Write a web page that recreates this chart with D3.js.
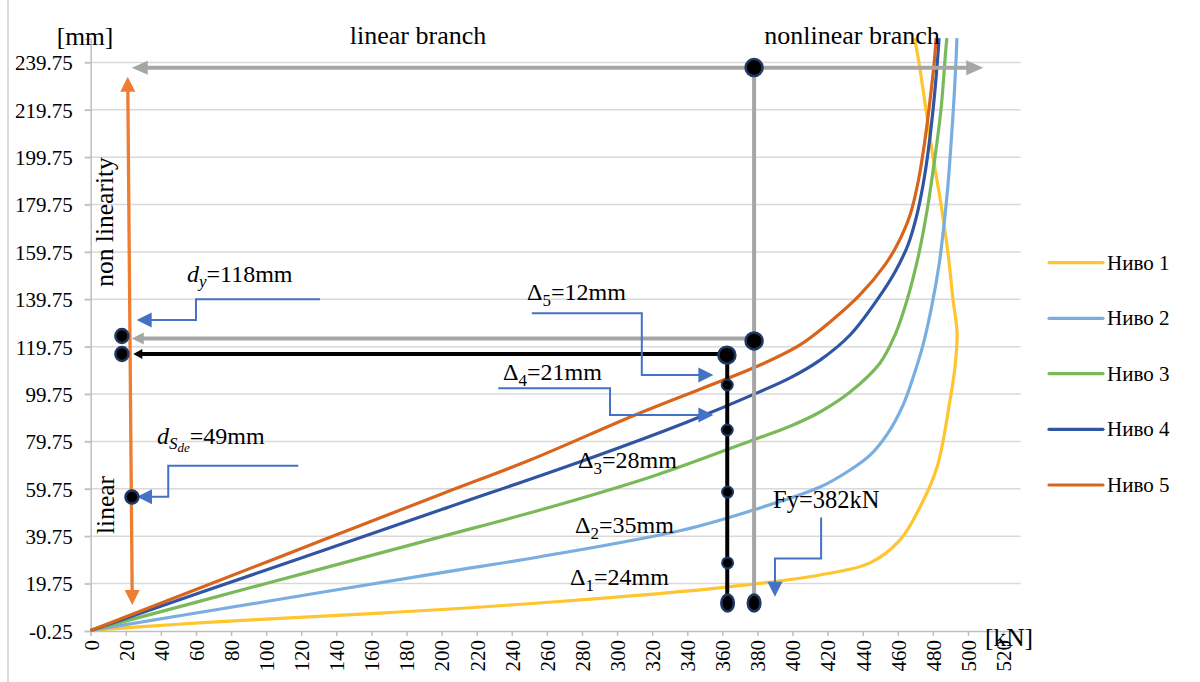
<!DOCTYPE html>
<html><head><meta charset="utf-8">
<script src="https://cdn.jsdelivr.net/npm/d3@7"></script>
<style>body{margin:0;background:#fff}svg{display:block}text{font-family:"Liberation Serif","Times New Roman",serif;fill:#000}</style>
</head><body><svg id="c" width="1200" height="682"></svg>
<script>
const seriesNames = ["Ниво 1","Ниво 2","Ниво 3","Ниво 4","Ниво 5"];
const seriesColors = ["#ffc52e","#7aaee0","#79b95a","#2f55a3","#d9651c"];
// force [kN] and displacement [mm]
const nivo1F = [0, 50, 100, 165, 265, 362.6, 415.7, 444.2, 461.3, 472.7, 482.4, 489.8, 492.6, 493.8, 491.5, 488.6, 484.7, 480.1, 476.1, 472.1, 469.6];
const nivo1D = [0, 2.6, 4.8, 7.3, 12.1, 18.3, 23.4, 28.5, 38.2, 52.1, 69.0, 97.3, 111.2, 125.5, 139.5, 159.3, 179.6, 199.8, 219.7, 239.5, 250];
const nivo2F = [0, 100, 200, 256.1, 337.6, 377.5, 415.7, 432.8, 444.2, 454.4, 463.0, 469.2, 474.4, 479.5, 483.5, 486.3, 488.6, 490.3, 492.0, 493.2, 493.7];
const nivo2D = [0, 12.2, 24.4, 31.1, 42.4, 50.8, 60.5, 67.7, 74.0, 83.3, 95.1, 107.8, 120.5, 137.4, 154.2, 171.1, 188.0, 204.9, 223.9, 240.8, 250];
const nivo3F = [0, 100, 200, 256.1, 320, 377.5, 398.6, 415.7, 432.8, 449.9, 458.4, 465.3, 472.1, 477.2, 481.2, 484.6, 487.5, 488.0];
const nivo3D = [0, 19.8, 39.6, 50.8, 65, 80.4, 86.2, 92.2, 100.6, 112.9, 124.7, 139.5, 159.3, 179.6, 199.8, 219.7, 246.3, 250];
const nivo4F = [0, 100, 200, 284.6, 340, 381.5, 398.6, 415.7, 432.8, 448.2, 458.4, 465.8, 470.9, 474.4, 476.9, 480.1, 483.2, 483.5];
const nivo4D = [0, 25.5, 51, 72.7, 88, 100.8, 106.6, 114.1, 124.7, 139.5, 151.3, 162.7, 175.4, 188.0, 199.8, 219.7, 246.3, 250];
const nivo5F = [0, 100, 200, 250.4, 313, 381.5, 404.3, 421.4, 438.4, 452.7, 459.6, 467.0, 471.8, 475.5, 478.4, 480.9, 481.8];
const nivo5D = [0, 28.8, 57.6, 71.9, 91.8, 112.0, 120.5, 130.2, 141.6, 154.3, 162.7, 175.4, 190.1, 207.0, 223.9, 240.8, 250];
const xTicks = [0,20,40,60,80,100,120,140,160,180,200,220,240,260,280,300,320,340,360,380,400,420,440,460,480,500,520];
const yTicks = [-0.25,19.75,39.75,59.75,79.75,99.75,119.75,139.75,159.75,179.75,199.75,219.75,239.75];
const xDomain = [0, 530];
const yDomain = [-0.25, 249.75];

const svg = d3.select("#c");
const x = d3.scaleLinear().domain(xDomain).range([90.7, 1020.6]);
const y = d3.scaleLinear().domain(yDomain).range([631, 38.75]);

// outer border
svg.append("line").attr("x1",8).attr("x2",8).attr("y1",0).attr("y2",682).attr("stroke","#d0d0d0").attr("stroke-width",1.5);

// gridlines
svg.append("g").selectAll("line").data(yTicks.slice(1)).join("line")
  .attr("x1", x(0)-6).attr("x2", x(xDomain[1])).attr("y1", d=>y(d)).attr("y2", d=>y(d))
  .attr("stroke","#d9d9d9").attr("stroke-width",1.5);

// axes
const yAxis = d3.axisLeft(y).tickValues(yTicks).tickFormat(d=>d.toFixed(2)).tickSize(6).tickPadding(12);
const gy = svg.append("g").attr("transform",`translate(${x(0)},0)`).call(yAxis);
gy.select(".domain").attr("stroke","#bfbfbf").attr("stroke-width",1.5);
gy.selectAll(".tick line").attr("stroke","#bfbfbf").attr("stroke-width",1.5);
gy.selectAll(".tick text").attr("font-family","Liberation Serif").attr("font-size",21).attr("fill","#000").attr("dy","0.35em");

const xAxis = d3.axisBottom(x).tickValues(xTicks).tickFormat(d3.format("d")).tickSize(5);
const gx = svg.append("g").attr("transform",`translate(0,${y(-0.25)})`).call(xAxis);
gx.select(".domain").attr("stroke","#bfbfbf").attr("stroke-width",1.5);
gx.selectAll(".tick line").attr("stroke","#bfbfbf").attr("stroke-width",1.5);
gx.selectAll(".tick text").attr("font-family","Liberation Serif").attr("font-size",21).attr("fill","#000")
  .attr("transform","rotate(-90)").attr("text-anchor","end").attr("x",-9).attr("y",0).attr("dy","0.35em");

// series
const series = [
  {F:nivo1F, D:nivo1D}, {F:nivo2F, D:nivo2D}, {F:nivo3F, D:nivo3D}, {F:nivo4F, D:nivo4D}, {F:nivo5F, D:nivo5D}
];
const line = d3.line().x(p=>x(p[0])).y(p=>y(p[1])).curve(d3.curveCatmullRom.alpha(0.5));
series.forEach((s,i)=>{
  const pts = s.F.map((f,j)=>[f, s.D[j]]);
  svg.append("path").attr("d", line(pts)).attr("fill","none").attr("stroke",seriesColors[i])
    .attr("stroke-width",3.2).attr("stroke-linejoin","round").attr("stroke-linecap","butt");
});

// helpers
function head(tipX, tipY, dir, len, half, color){
  const bx = tipX - Math.cos(dir)*len, by = tipY - Math.sin(dir)*len;
  const px = -Math.sin(dir)*half, py = Math.cos(dir)*half;
  svg.append("path").attr("d",`M${tipX},${tipY}L${bx+px},${by+py}L${bx-px},${by-py}Z`).attr("fill",color);
}
function poly(pts, color, w){
  svg.append("path").attr("d", d3.line()(pts)).attr("fill","none").attr("stroke",color).attr("stroke-width",w).attr("stroke-linejoin","miter");
}

const gray = "#a6a6a6";
// top gray double arrow
{
  const yy = y(237.5), x1 = x(23.4), x2 = x(508.7);
  poly([[x1+10,yy],[x2-10,yy]], gray, 4);
  head(x1, yy, Math.PI, 16, 7, gray);
  head(x2, yy, 0, 17, 7.5, gray);
}
// gray vertical
poly([[x(378.1),y(237.5)],[x(378.1),y(11.6)]], gray, 4);
// gray middle arrow
{
  const yy = y(123.2);
  poly([[x(378.1),yy],[x(23.4)+8,yy]], gray, 4);
  head(x(23.4), yy, Math.PI, 12, 6, gray);
}
// black arrow
{
  const yy = y(116.7);
  poly([[x(362.6),yy],[x(24.3)+6,yy]], "#000", 4);
  head(x(24.3), yy, Math.PI, 9, 5, "#000");
}
// black vertical
poly([[x(362.8),y(116.2)],[x(362.8),y(11.6)]], "#000", 4);

// orange double arrow
{
  const ox1 = x(21.1), oy1 = y(233.7), ox2 = x(23.7), oy2 = y(10.7);
  const ang = Math.atan2(oy2-oy1, ox2-ox1);
  poly([[ox1+Math.cos(ang)*10, oy1+Math.sin(ang)*10],[ox2-Math.cos(ang)*10, oy2-Math.sin(ang)*10]], "#ed7d31", 3.3);
  head(ox1, oy1, ang+Math.PI, 15, 7.5, "#ed7d31");
  head(ox2, oy2, ang, 15, 7.5, "#ed7d31");
}

// blue callouts
const blue = "#4472c4";
const callouts = [
  [[130.7,139.8],[60.0,139.8],[60.0,131.0],[26.2,131.0]],
  [[118.3,69.5],[44.2,69.5],[44.2,56.4],[26.4,56.4]],
  [[251.4,133.9],[314.1,133.9],[314.1,107.8],[354.9,107.8]],
  [[232.3,102.2],[296.0,102.2],[296.0,90.9],[354.9,90.9]],
  [[416.3,47.7],[416.3,30.4],[390.0,30.4],[390.0,14.2]]
];
callouts.forEach(c=>{
  const pts = c.map(p=>[x(p[0]),y(p[1])]);
  const n = pts.length;
  const a = Math.atan2(pts[n-1][1]-pts[n-2][1], pts[n-1][0]-pts[n-2][0]);
  const tip = pts[n-1];
  const body = pts.slice(0,n-1).concat([[tip[0]-Math.cos(a)*12, tip[1]-Math.sin(a)*12]]);
  poly(body, blue, 2);
  head(tip[0], tip[1], a, 15, 7.5, blue);
});

// dots
const dotStroke = "#1f3864";
const bigDots = [[378.1,237.6],[378.1,122.2],[362.6,116.2]];
const smallDots = [[362.8,103.6],[362.8,84.6],[363.0,58.4],[363.0,28.5]];
const ovalDots = [[363.0,11.6],[378.1,11.6]];
const leftDots = [[17.8,124.3],[17.8,116.7]];
const linDot = [[23.5,56.3]];
bigDots.forEach(p=>svg.append("circle").attr("cx",x(p[0])).attr("cy",y(p[1])).attr("r",8.5).attr("fill","#000").attr("stroke",dotStroke).attr("stroke-width",2.5));
smallDots.forEach(p=>svg.append("circle").attr("cx",x(p[0])).attr("cy",y(p[1])).attr("r",5.5).attr("fill","#000").attr("stroke",dotStroke).attr("stroke-width",2));
ovalDots.forEach(p=>svg.append("ellipse").attr("cx",x(p[0])).attr("cy",y(p[1])).attr("rx",6.3).attr("ry",8.5).attr("fill","#000").attr("stroke",dotStroke).attr("stroke-width",2.5));
leftDots.forEach(p=>svg.append("ellipse").attr("cx",x(p[0])).attr("cy",y(p[1])).attr("rx",6.5).attr("ry",7).attr("fill","#000").attr("stroke",dotStroke).attr("stroke-width",2.5));
linDot.forEach(p=>svg.append("circle").attr("cx",x(p[0])).attr("cy",y(p[1])).attr("r",6.5).attr("fill","#000").attr("stroke",dotStroke).attr("stroke-width",2.5));

// texts
function txt(tx, ty, s, size, anchor){
  return svg.append("text").attr("x",tx).attr("y",ty).attr("font-size",size).attr("text-anchor",anchor||"start").text(s);
}
txt(85, 45, "[mm]", 25.5, "middle");
txt(1009, 646, "[kN]", 25.5, "middle");
txt(418, 44, "linear branch", 26, "middle");
txt(852, 44, "nonlinear branch", 26, "middle");
svg.append("text").attr("transform","translate(113,222) rotate(-90)").attr("font-size",25.5).attr("text-anchor","middle").text("non linearity");
svg.append("text").attr("transform","translate(114,505) rotate(-90)").attr("font-size",25.5).attr("text-anchor","middle").text("linear");

function delta(tx, ty, sub, rest){
  const t = svg.append("text").attr("x",tx).attr("y",ty).attr("font-size",24);
  t.append("tspan").text("Δ");
  t.append("tspan").attr("font-size",17).attr("dy",6).text(sub);
  t.append("tspan").attr("dy",-6).text(rest);
}
delta(527, 300, "5", "=12mm");
delta(503, 380, "4", "=21mm");
delta(578, 468, "3", "=28mm");
delta(575, 533, "2", "=35mm");
delta(570, 585, "1", "=24mm");
txt(773, 508, "Fy=382kN", 24.5);
{
  const t = svg.append("text").attr("x",187).attr("y",282).attr("font-size",24);
  t.append("tspan").attr("font-style","italic").text("d");
  t.append("tspan").attr("font-style","italic").attr("font-size",17).attr("dy",5).text("y");
  t.append("tspan").attr("dy",-5).text("=118mm");
}
{
  const t = svg.append("text").attr("x",157).attr("y",444).attr("font-size",24);
  t.append("tspan").attr("font-style","italic").text("d");
  t.append("tspan").attr("font-style","italic").attr("font-size",17).attr("dy",5).text("S");
  t.append("tspan").attr("font-style","italic").attr("font-size",13).attr("dy",3).text("de");
  t.append("tspan").attr("dy",-8).text("=49mm");
}

// legend
const legY = [262.7, 318.3, 373.7, 429.3, 485];
seriesNames.forEach((n,i)=>{
  svg.append("line").attr("x1",1049).attr("x2",1103).attr("y1",legY[i]).attr("y2",legY[i])
    .attr("stroke",seriesColors[i]).attr("stroke-width",3.2).attr("stroke-linecap","round");
  txt(1107, legY[i]+7, n, 21);
});
</script></body></html>
